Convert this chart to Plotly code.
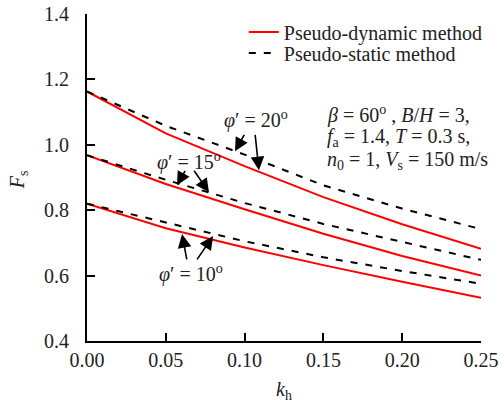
import plotly.graph_objects as go

kh = [0.00, 0.05, 0.10, 0.15, 0.20, 0.25]
dyn_20 = [1.163, 1.035, 0.935, 0.840, 0.757, 0.682]
sta_20 = [1.163, 1.058, 0.970, 0.876, 0.805, 0.742]
dyn_15 = [0.968, 0.880, 0.803, 0.728, 0.660, 0.600]
sta_15 = [0.968, 0.893, 0.822, 0.758, 0.703, 0.648]
dyn_10 = [0.820, 0.745, 0.686, 0.632, 0.581, 0.532]
sta_10 = [0.820, 0.762, 0.705, 0.656, 0.614, 0.575]

x_ticks = [0.00, 0.05, 0.10, 0.15, 0.20, 0.25]
y_ticks = [0.4, 0.6, 0.8, 1.0, 1.2, 1.4]

FONT = "Times New Roman"
FS = 20

fig = go.Figure()
dyn_sets = [dyn_20, dyn_15, dyn_10]
sta_sets = [sta_20, sta_15, sta_10]
for i, ys in enumerate(dyn_sets):
    fig.add_trace(go.Scatter(x=kh, y=ys, mode="lines", name="Pseudo-dynamic method",
                             line=dict(color="#ff0000", width=2), showlegend=(i == 0),
                             legend="legend"))
for i, ys in enumerate(sta_sets):
    fig.add_trace(go.Scatter(x=kh, y=ys, mode="lines", name="Pseudo-static method",
                             line=dict(color="black", width=2, dash="7px,8px"),
                             showlegend=(i == 0), legend="legend2"))

# labels with arrows: (text x, text y, [(tail x, tail y, tip x, tip y), ...])
labels = [
    ("<i>φ</i>′ = 20<sup>o</sup>", 0.107, 1.077,
     [(0.1003, 1.035, 0.0939, 0.980), (0.1066, 1.035, 0.1091, 0.922)]),
    ("<i>φ</i>′ = 15<sup>o</sup>", 0.065, 0.950,
     [(0.0628, 0.925, 0.0571, 0.876), (0.0673, 0.925, 0.0774, 0.855)]),
    ("<i>φ</i>′ = 10<sup>o</sup>", 0.066, 0.605,
     [(0.0635, 0.645, 0.0603, 0.727), (0.0692, 0.645, 0.0800, 0.721)]),
]
for text, tx, ty, arrows in labels:
    fig.add_annotation(x=tx, y=ty, text=text, showarrow=False,
                       font=dict(family=FONT, size=FS, color="#222"))
    for (ax, ay, x, y) in arrows:
        fig.add_annotation(x=x, y=y, ax=ax, ay=ay, xref="x", yref="y",
                           axref="x", ayref="y", text="", showarrow=True,
                           arrowhead=2, arrowsize=1.7, arrowwidth=1.6,
                           arrowcolor="black", standoff=0, startstandoff=0)

params = [
    "<i>β</i> = 60<sup>o</sup> , <i>B</i>/<i>H</i> = 3,",
    "<i>f</i><sub>a</sub> = 1.4, <i>T</i> = 0.3 s,",
    "<i>n</i><sub>0</sub> = 1, <i>V</i><sub>s</sub> = 150 m/s",
]
param_y = [1.094, 1.022, 0.952]
for t, yy in zip(params, param_y):
    fig.add_annotation(x=0.151, y=yy, text=t, showarrow=False, xanchor="left",
                       font=dict(family=FONT, size=FS, color="#222"))

# axis titles
fig.add_annotation(x=0.5, y=-0.150, xref="paper", yref="paper",
                   xanchor="center", yanchor="middle",
                   text="<i>k</i><sub>h</sub>", showarrow=False,
                   font=dict(family=FONT, size=FS, color="#222"))
fig.add_annotation(x=-0.175, y=0.492, xref="paper", yref="paper", textangle=-90,
                   xanchor="center", yanchor="middle",
                   text="<i>F</i><sub>s</sub>", showarrow=False,
                   font=dict(family=FONT, size=FS, color="#222"))

legend_common = dict(xanchor="left", yanchor="middle", bgcolor="rgba(0,0,0,0)",
                     font=dict(family=FONT, size=FS), itemwidth=30)

fig.update_layout(
    width=504, height=400,
    margin=dict(l=87, r=23, t=14, b=59, autoexpand=False),
    paper_bgcolor="white", plot_bgcolor="white",
    font=dict(family=FONT, size=FS, color="#222"),
    showlegend=True,
    legend=dict(x=0.398, y=0.945, **legend_common),
    legend2=dict(x=0.398, y=0.881, **legend_common),
    xaxis=dict(range=[0, 0.25], tickvals=x_ticks, tickformat=".2f",
               showline=True, linecolor="black", linewidth=2,
               ticks="inside", ticklen=8, tickwidth=2, tickcolor="black",
               showgrid=False, zeroline=False, mirror=False,
               ticklabelstandoff=0, automargin=False),
    yaxis=dict(range=[0.4, 1.4], tickvals=y_ticks, tickformat=".1f",
               showline=True, linecolor="black", linewidth=2,
               ticks="inside", ticklen=8, tickwidth=2, tickcolor="black",
               showgrid=False, zeroline=False, mirror=False,
               ticklabelstandoff=12, automargin=False),
)

fig.write_html("out.html")
